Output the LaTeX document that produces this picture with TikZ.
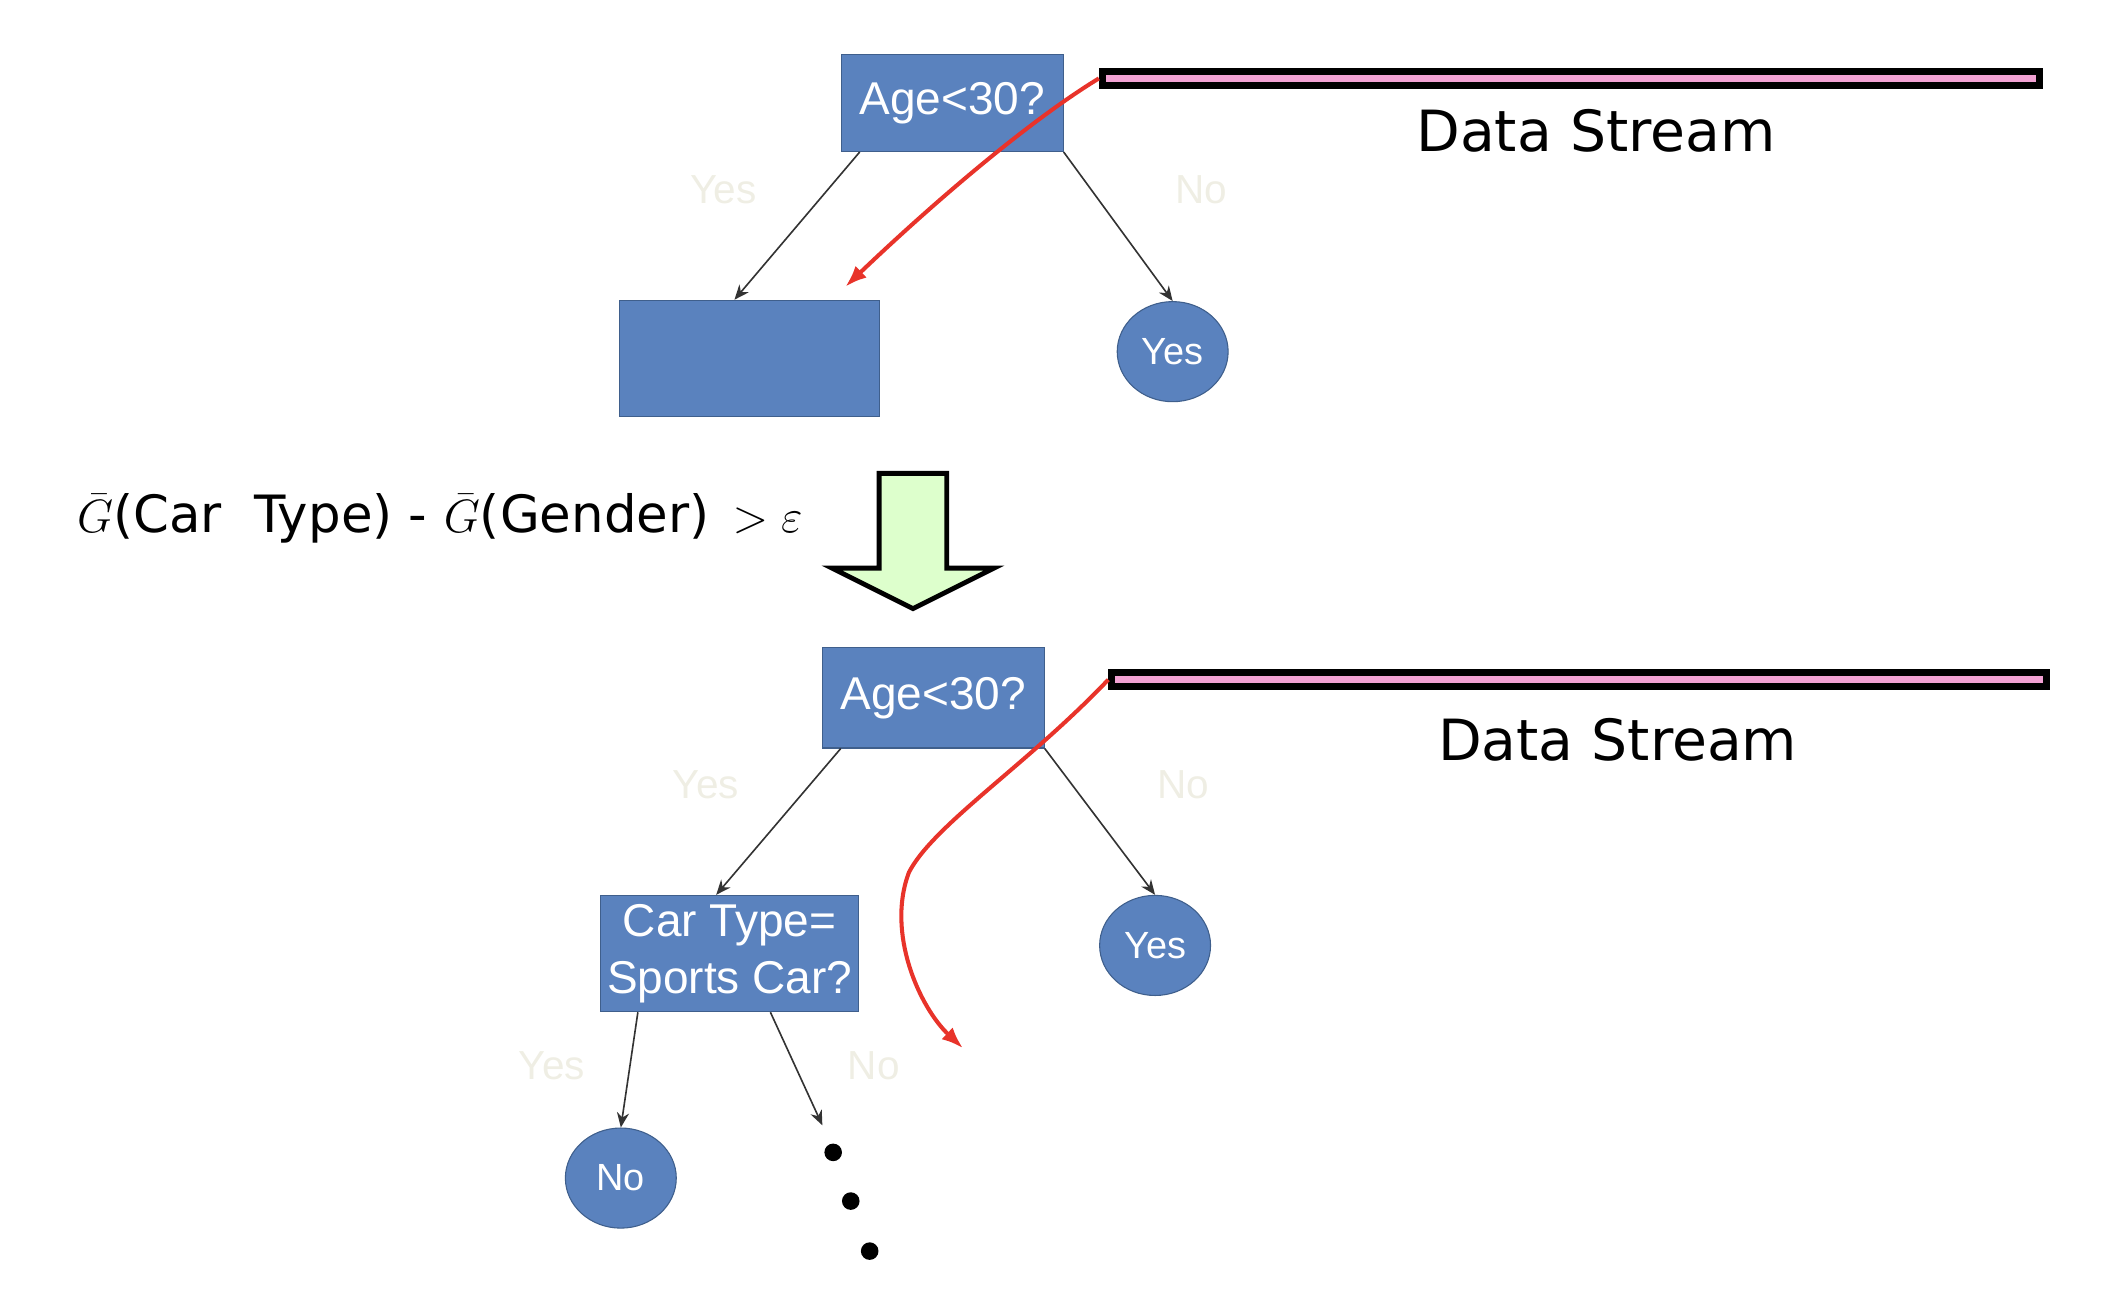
\documentclass[tikz,border=0pt]{standalone}
\usepackage{fontspec}
\setmainfont{Liberation Sans}
\newfontfamily\comicfont{DejaVu Sans}
\usetikzlibrary{arrows.meta, positioning, shapes.geometric}

\definecolor{treeblue}{HTML}{5A82BE}
\definecolor{treeedge}{HTML}{3F5F8C}
\definecolor{streampink}{HTML}{F2A2D4}
\definecolor{arrowgreen}{HTML}{DDFFCC}
\definecolor{flowred}{HTML}{E8332A}
\definecolor{faint}{HTML}{EFEEE4}

\begin{document}
\begin{tikzpicture}[
  x=0.5pt, y=-0.5pt,
  box/.style={
    rectangle,
    draw=treeedge,
    fill=treeblue,
    text=white,
    align=center,
    inner sep=0pt,
    font=\fontsize{17}{21}\selectfont
  },
  leaf/.style={
    ellipse,
    draw=treeedge,
    fill=treeblue,
    text=white,
    minimum width=41pt,
    minimum height=37pt,
    inner sep=0pt,
    font=\fontsize{14}{16}\selectfont
  },
  stream/.style={rectangle, draw=black, line width=2.6pt, fill=streampink, minimum height=5.4pt, inner sep=0pt},
  streamlabel/.style={font=\comicfont\fontsize{21}{25}\selectfont},
  branch/.style={text=faint, font=\fontsize{15}{18}\selectfont},
  edge/.style={-{Stealth[length=5.5pt, width=4.5pt]}, draw=black!80, line width=0.6pt},
  flow/.style={-{Latex[length=8pt, width=6pt]}, draw=flowred, line width=1.5pt},
  dot/.style={circle, fill=black, inner sep=0pt, minimum size=6.5pt}
]
\useasboundingbox (0,0) rectangle (1560,961);

% Tree before the split
\node[box, minimum width=82pt, minimum height=36pt] (age1) at (704,76) {Age<30?};
\node[box, minimum width=96pt, minimum height=43pt] (left1) at (554,265) {};
\node[leaf] (yes1) at (867,260) {Yes};
\node[stream, minimum width=346.5pt] (bar1) at (1161.5,58) {};
\node[streamlabel] (ds1) at (1180,97) {Data Stream};
\coordinate (drop1) at (625,212);

\node[branch] (yes1lab) at (535,140) {Yes};
\node[branch] (no1lab) at (888,140) {No};

\draw[edge] ([xshift=7pt]age1.south west) -- ([xshift=-5.5pt]left1.north);
\draw[edge] (age1.south east) -- (yes1.north);
\draw[flow] (bar1.west) .. controls (760,90) and (690,150) .. (drop1);

% Split condition
\node[anchor=west, font=\comicfont\fontsize{19}{23}\selectfont] (gain) at (50,383)
  {$\bar{G}$(Car~~Type) - $\bar{G}$(Gender)\hspace{0.45em}$>\varepsilon$};
\draw[line width=1.8pt, fill=arrowgreen, line join=miter]
  (650,350) -- (700,350) -- (700,420) -- (735,420) -- (675,450) -- (615,420) -- (650,420) -- cycle;

% Tree after the split
\node[box, minimum width=82pt, minimum height=37pt] (age2) at (690,516) {Age<30?};
\node[box, minimum width=95.5pt, minimum height=43pt] (car) at (539.5,705) {Car Type=\\Sports Car?};
\node[leaf] (yes2) at (854,699) {Yes};
\node[leaf] (no2) at (459,871) {No};
\node[stream, minimum width=345.5pt] (bar2) at (1167.5,502.5) {};
\node[streamlabel] (ds2) at (1196,547) {Data Stream};
\coordinate (more) at (608,832);
\coordinate (drop2) at (712,775);

\node[branch] (yes2lab) at (522,580) {Yes};
\node[branch] (no2lab) at (875,580) {No};
\node[branch] (yes3lab) at (408,788) {Yes};
\node[branch] (no3lab) at (646,788) {No};

\draw[edge] ([xshift=7pt]age2.south west) -- ([xshift=-5pt]car.north);
\draw[edge] (age2.south east) -- (yes2.north);
\draw[edge] ([xshift=14pt]car.south west) -- (no2.north);
\draw[edge] ([xshift=63pt]car.south west) -- (more);
\draw[flow] (bar2.west) .. controls (760,565) and (690,610) .. (672,645)
  .. controls (655,690) and (680,745) .. (drop2);

% Dots for the unfinished branch
\node[dot] (dota) at (616,852) {};
\node[dot] (dotb) at (629,888) {};
\node[dot] (dotc) at (643,925) {};

\end{tikzpicture}
\end{document}
